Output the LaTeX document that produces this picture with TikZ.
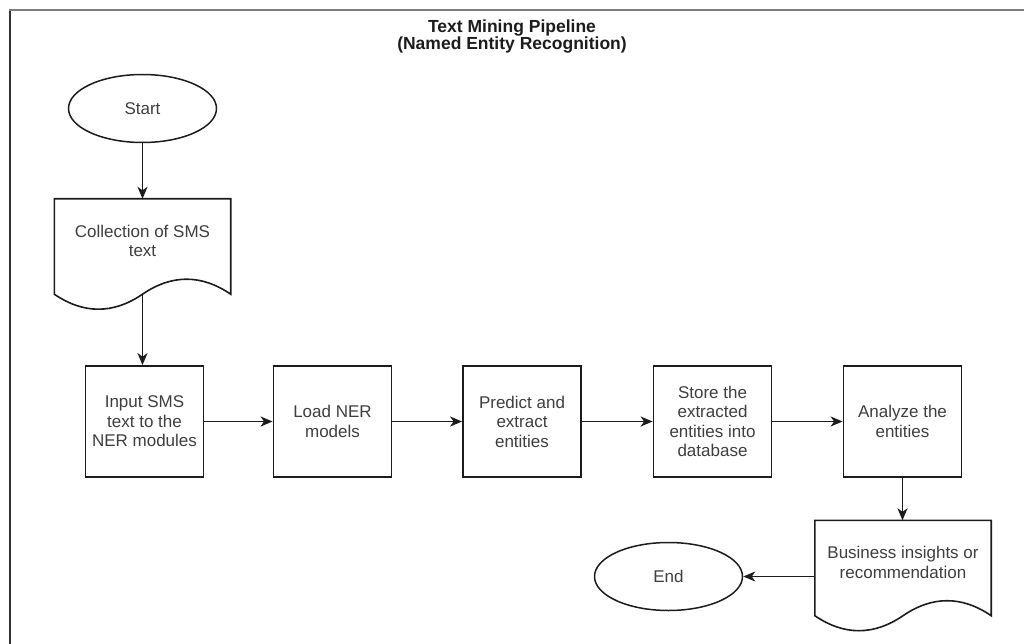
\documentclass[tikz,border=0pt]{standalone}
\usepackage{fontspec}
\setmainfont{Liberation Sans}
\usetikzlibrary{arrows.meta,shapes.geometric,calc}
\definecolor{txt}{RGB}{62,62,62}
\definecolor{ln}{RGB}{28,28,28}
\definecolor{frameleft}{RGB}{50,50,50}
\definecolor{frametop}{RGB}{125,125,125}
\newcommand\docshape[1]{\draw[shapeline] (#1.north west) -- (#1.north east) -- (#1.south east)
  .. controls +(-29.3,-20) and +(29.3,-20) .. (#1.south)
  .. controls +(-29.3,20) and +(29.3,20) .. (#1.south west) -- cycle;}
\begin{document}
\begin{tikzpicture}[x=1pt,y=-1pt,
  every node/.style={font=\fontsize{17}{19.5}\selectfont, text=txt, align=center},
  shapeline/.style={draw=ln, line width=1.6pt, line join=miter},
  procbox/.style={draw=ln, line width=1.8pt, minimum width=118pt, minimum height=111pt, inner sep=0pt},
  terminal/.style={ellipse, draw=ln, line width=1.5pt, minimum width=148pt, minimum height=68pt, inner sep=0pt},
  docbox/.style={minimum width=176pt, minimum height=95pt, inner sep=0pt},
  flow/.style={draw=ln, line width=1.7pt, -{Stealth[length=12pt,width=10pt,inset=3.5pt]}},
  titletext/.style={font=\fontsize{17.5}{16}\selectfont\bfseries, text=ln}
]
\useasboundingbox (0,0) rectangle (1024,644);
% frame
\draw[frameleft, line width=2.2pt] (10,644) -- (10,10);
\draw[frametop, line width=2.4pt] (9,10) -- (1024,10);

\node[titletext] (title) at (512,36.5) {Text Mining Pipeline\\(Named Entity Recognition)};

\node[terminal] (start) at (142.5,108.5) {Start};

\node[docbox] (doc1) at (142.5,246.5) {};
\docshape{doc1}
\node (doc1t) at (142.5,241) {Collection of SMS\\text};

\node[procbox] (box1) at (144.5,421.5) {Input SMS\\text to the\\NER modules};
\node[procbox] (box2) at (332.5,421.5) {Load NER\\models};
\node[procbox] (box3) at (522,421.5) {Predict and\\extract\\entities};
\node[procbox] (box4) at (712.5,421.5) {Store the\\extracted\\entities into\\database};
\node[procbox] (box5) at (902.5,421.5) {Analyze the\\entities};

\node[docbox] (doc2) at (903,568) {};
\docshape{doc2}
\node (doc2t) at (903,562.5) {Business insights or\\recommendation};

\node[terminal] (end) at (668.5,576.5) {End};

\draw[flow] (start.south) -- (doc1.north);
\draw[flow] (doc1.south) -- (doc1.south |- box1.north);
\draw[flow] (box1.east) -- (box2.west);
\draw[flow] (box2.east) -- (box3.west);
\draw[flow] (box3.east) -- (box4.west);
\draw[flow] (box4.east) -- (box5.west);
\draw[flow] (box5.south) -- (box5.south |- doc2.north);
\draw[flow] (doc2.west |- end.east) -- (end.east);
\end{tikzpicture}
\end{document}
